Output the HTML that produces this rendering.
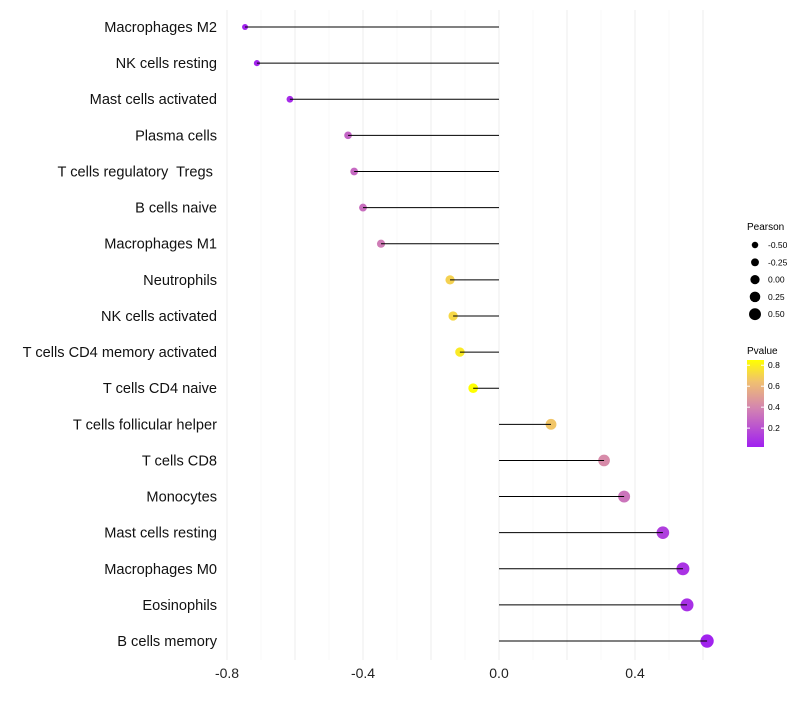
<!DOCTYPE html>
<html><head><meta charset="utf-8"><style>body{margin:0;background:#fff}svg{font-family:"Liberation Sans",sans-serif}text{white-space:pre}</style></head>
<body>
<svg id="c" width="800" height="700">
<defs><linearGradient id="pg" x1="0" y1="1" x2="0" y2="0">
<stop offset="0" stop-color="#a020f0"/><stop offset="0.45" stop-color="#d485b0"/><stop offset="0.75" stop-color="#f0c070"/><stop offset="1" stop-color="#ffff00"/></linearGradient></defs>
<g id="grid"></g><g id="marks"></g><g id="labels"></g>
<g>
<text x="747" y="230" font-size="10">Pearson</text>
<g id="sizeleg"></g></g>
<g>
<text x="747" y="354" font-size="10">Pvalue</text>
<rect x="747" y="360" width="17" height="87" fill="url(#pg)"/>
<g id="cleg"></g></g>
</svg>
<script>
const categories=["Macrophages M2","NK cells resting","Mast cells activated","Plasma cells","T cells regulatory  Tregs ","B cells naive","Macrophages M1","Neutrophils","NK cells activated","T cells CD4 memory activated","T cells CD4 naive","T cells follicular helper","T cells CD8","Monocytes","Mast cells resting","Macrophages M0","Eosinophils","B cells memory"];
const pearson=[-0.747,-0.712,-0.615,-0.444,-0.426,-0.4,-0.347,-0.144,-0.135,-0.115,-0.076,0.153,0.309,0.368,0.482,0.541,0.553,0.612];
const pvalue=[0.03,0.04,0.06,0.27,0.29,0.31,0.36,0.7,0.72,0.78,0.85,0.66,0.42,0.33,0.13,0.09,0.08,0.03];
const xTicks=[-0.8,-0.4,0.0,0.4];
const xTickLabels=["-0.8","-0.4","0.0","0.4"];
const sizeLegVals=[-0.5,-0.25,0,0.25,0.5];
const sizeLegLabels=["-0.50","-0.25","0.00","0.25","0.50"];
const colorTicks=[0.2,0.4,0.6,0.8];
const NS="http://www.w3.org/2000/svg";
const X=v=>499+v*340, Y=i=>27+i*36.12, R=v=>5+2.7*v;
const C=p=>{const t=Math.max(0,Math.min(1,(p-0.02)/0.83));const s=[[0,[160,32,240]],[0.45,[212,133,176]],[0.75,[240,192,112]],[1,[255,255,0]]];for(let k=1;k<s.length;k++)if(t<=s[k][0]){const a=s[k-1],b=s[k],f=(t-a[0])/(b[0]-a[0]);return`rgb(${a[1].map((c,j)=>Math.round(c+(b[1][j]-c)*f)).join(",")})`;}return"rgb(255,255,0)";};
const CY=p=>447-(p-0.02)/0.83*87;
function mk(t,a,p){const e=document.createElementNS(NS,t);for(const k in a)e.setAttribute(k,a[k]);(p||document.getElementById("c")).appendChild(e);return e;}
const g=document.getElementById("grid"),m=document.getElementById("marks"),L=document.getElementById("labels");
for(let v=-0.8;v<=0.61;v+=0.1){const major=Math.abs(Math.round(v*10))%2===0;const l=mk("line",{x1:X(v),x2:X(v),y1:10,y2:660,stroke:major?"#eeeeee":"#f6f6f6","stroke-width":major?1:0.6},g);

}
xTicks.forEach((v,i)=>{const t=mk("text",{x:X(v),y:678,"font-size":14,"text-anchor":"middle",fill:"#222"},L);t.textContent=xTickLabels[i];

});
categories.forEach((c,i)=>{const y=Y(i);
const d=mk("circle",{cx:X(pearson[i]),cy:y,r:R(pearson[i]),fill:C(pvalue[i])},m);


const ln=mk("line",{x1:X(0),x2:X(pearson[i]),y1:y,y2:y,stroke:"#000","stroke-width":1},m);


const t=mk("text",{x:217,y:y+5,"font-size":14.6,"text-anchor":"end",fill:"#111"},L);t.textContent=c;

});
const sl=document.getElementById("sizeleg");
sizeLegVals.forEach((v,i)=>{const y=245+i*17.3;const d=mk("circle",{cx:755,cy:y,r:R(v)-0.4,fill:"#000"},sl);


const t=mk("text",{x:768,y:y+3,"font-size":8.5},sl);t.textContent=sizeLegLabels[i];

});
const cl=document.getElementById("cleg");
colorTicks.forEach(v=>{const y=CY(v);mk("line",{x1:747,x2:750,y1:y,y2:y,stroke:"#fff"},cl);mk("line",{x1:761,x2:764,y1:y,y2:y,stroke:"#fff"},cl);
const t=mk("text",{x:768,y:y+3,"font-size":8.5},cl);t.textContent=v.toFixed(1);

});
</script>
</body></html>
